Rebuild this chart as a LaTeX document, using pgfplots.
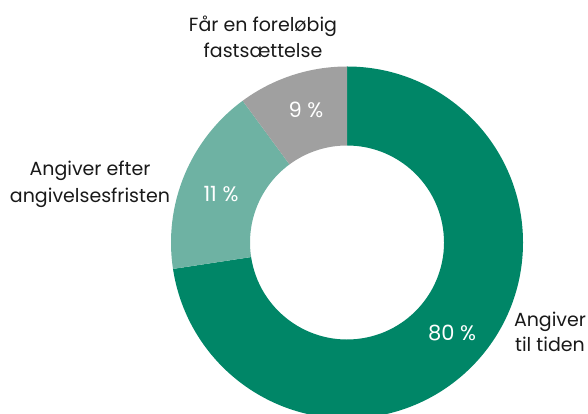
\documentclass[border=0pt]{standalone}
\usepackage{pgfplots}
\usepackage{pgfplotstable}
\pgfplotsset{compat=1.18}
\usepackage{fontspec}
\setmainfont{Poppins}
\definecolor{dgreen}{RGB}{0,134,103}
\definecolor{lgreen}{RGB}{110,178,163}
\definecolor{sgray}{RGB}{160,160,160}
\definecolor{txt}{RGB}{25,25,25}
% shares of the ring as drawn (percent); printed labels are 80 %, 11 %, 9 %
\pgfplotstableread{
share
72.6
17.3
10.1
}\slices
\begin{document}
\begin{tikzpicture}
\pgfplotstablegetelem{0}{share}\of\slices \let\va\pgfplotsretval
\pgfplotstablegetelem{1}{share}\of\slices \let\vb\pgfplotsretval
\pgfplotstablegetelem{2}{share}\of\slices \let\vc\pgfplotsretval
\pgfmathsetmacro\aA{90}
\pgfmathsetmacro\aB{90-3.6*\va}
\pgfmathsetmacro\aC{\aB-3.6*\vb}
\pgfmathsetmacro\aD{\aC-3.6*\vc}
\def\Ro{176pt}
\def\Ri{97pt}
\begin{axis}[
  x=1pt, y=1pt, scale only axis,
  xmin=0, xmax=588, ymin=0, ymax=414,
  hide axis, clip=false,
]
\fill[dgreen] ([shift={(\aA:\Ro)}]axis cs:347,171.5) arc[start angle=\aA, end angle=\aB, radius=\Ro]
   -- ([shift={(\aB:\Ri)}]axis cs:347,171.5) arc[start angle=\aB, end angle=\aA, radius=\Ri] -- cycle;
\fill[lgreen] ([shift={(\aB:\Ro)}]axis cs:347,171.5) arc[start angle=\aB, end angle=\aC, radius=\Ro]
   -- ([shift={(\aC:\Ri)}]axis cs:347,171.5) arc[start angle=\aC, end angle=\aB, radius=\Ri] -- cycle;
\fill[sgray] ([shift={(\aC:\Ro)}]axis cs:347,171.5) arc[start angle=\aC, end angle=\aD, radius=\Ro]
   -- ([shift={(\aD:\Ri)}]axis cs:347,171.5) arc[start angle=\aD, end angle=\aC, radius=\Ri] -- cycle;
\begin{scope}[every node/.style={anchor=base, inner sep=0pt, font=\fontsize{19}{22}\selectfont}]
\node[txt] at (axis cs:263,382) {Får en foreløbig};
\node[txt] at (axis cs:263,356) {fastsættelse};
\node[txt] at (axis cs:90,238) {Angiver efter};
\node[txt] at (axis cs:90,211) {angivelsesfristen};
\node[txt] at (axis cs:550,87) {Angiver};
\node[txt] at (axis cs:550,62) {til tiden};
\end{scope}
\begin{scope}[every node/.style={anchor=base, inner sep=0pt, font=\fontsize{21}{24}\selectfont}]
\node[white] at (axis cs:306,296) {9 \%};
\node[white] at (axis cs:221,212) {11 \%};
\node[white] at (axis cs:452,73) {80 \%};
\end{scope}
\end{axis}
\pgfresetboundingbox
\path[use as bounding box] (current axis.south west) rectangle (current axis.north east);
\end{tikzpicture}
\end{document}
